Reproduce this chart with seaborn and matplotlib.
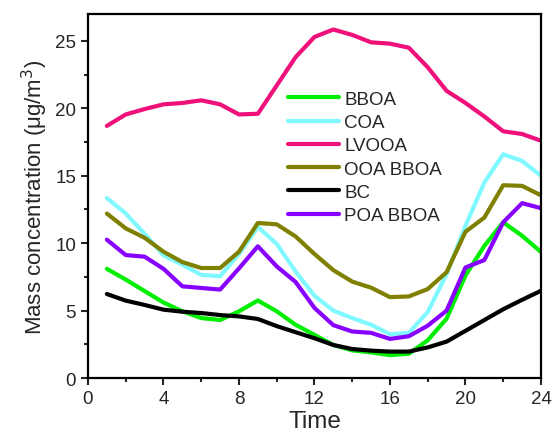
import matplotlib
matplotlib.use("Agg")
import matplotlib.pyplot as plt
import seaborn as sns
import pandas as pd
from matplotlib.ticker import MultipleLocator

hours = list(range(1, 25))
series_names = ["BBOA", "COA", "LVOOA", "OOA BBOA", "BC", "POA BBOA"]

bboa = [8.1, 7.3, 6.45, 5.6, 4.95, 4.45, 4.3, 4.95, 5.75, 4.95, 3.95, 3.2,
        2.45, 2.05, 1.9, 1.7, 1.8, 2.8, 4.4, 7.6, 9.8, 11.55, 10.55, 9.35]
coa = [13.35, 12.2, 10.7, 9.1, 8.4, 7.65, 7.55, 9.2, 11.2, 9.95, 7.9, 6.1,
       5.0, 4.45, 3.95, 3.25, 3.35, 4.9, 7.7, 11.3, 14.5, 16.6, 16.1, 15.0]
lvooa = [18.7, 19.55, 19.95, 20.3, 20.4, 20.6, 20.3, 19.55, 19.6, 21.7, 23.8, 25.3,
         25.85, 25.45, 24.9, 24.8, 24.5, 23.05, 21.3, 20.4, 19.4, 18.3, 18.1, 17.6]
ooa_bboa = [12.2, 11.1, 10.4, 9.37, 8.6, 8.16, 8.16, 9.37, 11.5, 11.4, 10.5, 9.2,
            8.0, 7.15, 6.7, 6.0, 6.05, 6.6, 7.85, 10.85, 11.9, 14.3, 14.25, 13.55]
bc = [6.23, 5.74, 5.42, 5.07, 4.92, 4.82, 4.67, 4.57, 4.38, 3.85, 3.4, 2.95,
      2.45, 2.15, 2.03, 1.96, 1.96, 2.27, 2.7, 3.5, 4.3, 5.1, 5.8, 6.47]
poa_bboa = [10.26, 9.12, 9.0, 8.1, 6.8, 6.68, 6.56, 8.13, 9.77, 8.28, 7.12, 5.2,
            3.92, 3.45, 3.35, 2.9, 3.1, 3.88, 5.0, 8.2, 8.75, 11.55, 12.97, 12.6]

values = [bboa, coa, lvooa, ooa_bboa, bc, poa_bboa]
colors = ["#00ee00", "#80f8ff", "#f0107a", "#808000", "#000000", "#8800ff"]

rows = []
for name, vals in zip(series_names, values):
    for h, v in zip(hours, vals):
        rows.append({"Time": h, "value": v, "series": name})
df = pd.DataFrame(rows)

sns.set_style("ticks")
plt.rcParams["font.family"] = ["Liberation Sans", "DejaVu Sans"]

fig = plt.figure(figsize=(5.52, 4.35), dpi=100)
ax = fig.add_axes([0.1594, 0.1287, 0.8206, 0.8368])

sns.lineplot(data=df, x="Time", y="value", hue="series", hue_order=series_names,
             palette=dict(zip(series_names, colors)), linewidth=3.0, ax=ax,
             legend=True)

ax.set_xlim(0, 24)
ax.set_ylim(0, 27)
ax.xaxis.set_major_locator(MultipleLocator(4))
ax.xaxis.set_minor_locator(MultipleLocator(2))
ax.yaxis.set_major_locator(MultipleLocator(5))
ax.yaxis.set_minor_locator(MultipleLocator(2.5))
ax.tick_params(axis="both", which="major", direction="out", length=5, width=1.5,
               labelsize=13.5, top=False, right=False)
ax.tick_params(axis="both", which="minor", direction="out", length=3, width=1.5,
               top=False, right=False)
for s in ax.spines.values():
    s.set_visible(True)
    s.set_linewidth(1.6)
    s.set_color("black")

ax.set_xlabel("Time", fontsize=17.5, labelpad=2)
ax.set_ylabel("Mass concentration (μg/m$^3$)", fontsize=16, labelpad=4)

leg = ax.legend(loc="upper left", bbox_to_anchor=(0.425, 0.81), frameon=False,
                fontsize=13.5, handlelength=2.7, handletextpad=0.3,
                labelspacing=0.33, borderaxespad=0)
for line in leg.get_lines():
    line.set_linewidth(3.0)

fig.savefig("out.png", dpi=100)
